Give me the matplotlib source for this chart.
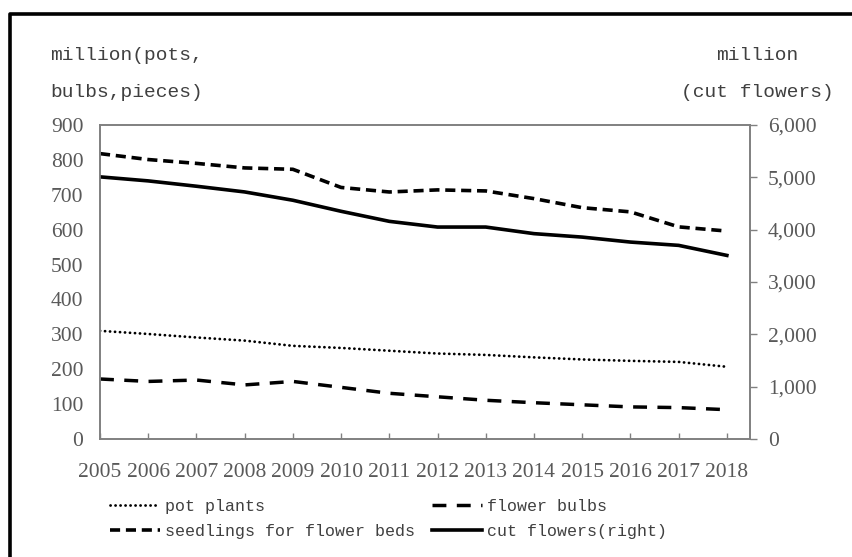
import matplotlib
matplotlib.use("Agg")
import matplotlib.pyplot as plt
from matplotlib.lines import Line2D

# --- dados ---
anos = [2005, 2006, 2007, 2008, 2009, 2010, 2011, 2012, 2013, 2014, 2015, 2016, 2017, 2018]
pot_plants = [310, 301, 291, 282, 267, 261, 253, 245, 241, 234, 228, 224, 221, 207]
flower_bulbs = [172, 165, 169, 155, 165, 148, 131, 121, 111, 104, 98, 92, 90, 84]
seedlings = [818, 801, 790, 777, 773, 721, 708, 714, 711, 689, 663, 651, 608, 596]
cut_flowers = [5009, 4932, 4830, 4721, 4562, 4351, 4159, 4050, 4050, 3924, 3858, 3763, 3700, 3508]

esq_ticks = [0, 100, 200, 300, 400, 500, 600, 700, 800, 900]
dir_ticks = [0, 1000, 2000, 3000, 4000, 5000, 6000]

W, H = 853, 557
cinza = "#808080"
texto = "#595959"
serif = "Liberation Serif"
mono = "Liberation Mono"

fig = plt.figure(figsize=(W / 100, H / 100), dpi=100)
ax = fig.add_axes([100 / W, 1 - 439 / H, 650 / W, 314 / H])
ax2 = ax.twinx()

x = list(range(len(anos)))

l_pot, = ax.plot(x, pot_plants, color="black", lw=2.0, dashes=(0.05, 1.75),
                 dash_capstyle="round", label="pot plants")
l_seed, = ax.plot(x, seedlings, color="black", lw=2.6, dashes=(2.8, 1.6),
                  label="seedlings for flower beds")
l_bulb, = ax.plot(x, flower_bulbs, color="black", lw=2.5, dashes=(4.0, 3.0),
                  label="flower bulbs")
l_cut, = ax2.plot(x, cut_flowers, color="black", lw=2.6, label="cut flowers(right)")

ax.set_xlim(0, 13.48)
ax.set_ylim(0, 900)
ax2.set_ylim(0, 6000)

ax.set_xticks(x)
ax.set_xticklabels([str(a) for a in anos], fontfamily=serif, fontsize=15.5, color=texto)
ax.tick_params(axis="x", direction="in", length=4.5, width=1, color=cinza, pad=17)

ax.set_yticks(esq_ticks)
ax.set_yticklabels([str(v) for v in esq_ticks], fontfamily=serif, fontsize=15.5, color=texto)
ax.tick_params(axis="y", length=0, pad=12)

ax2.set_yticks(dir_ticks)
ax2.set_yticklabels([f"{v:,}" for v in dir_ticks], fontfamily=serif, fontsize=15.5, color=texto)
ax2.tick_params(axis="y", direction="out", length=5, width=1, color=cinza, pad=8)

for a in (ax, ax2):
    for s in a.spines.values():
        s.set_color(cinza)
        s.set_linewidth(1.2)

# títulos dos eixos
fig.text(50 / W, 1 - 60 / H, "million(pots,", fontfamily=mono, fontsize=14,
         color="#404040", ha="left", va="baseline")
fig.text(50 / W, 1 - 97 / H, "bulbs,pieces)", fontfamily=mono, fontsize=14,
         color="#404040", ha="left", va="baseline")
fig.text(757 / W, 1 - 60 / H, "million", fontfamily=mono, fontsize=14,
         color="#404040", ha="center", va="baseline")
fig.text(757 / W, 1 - 97 / H, "(cut flowers)", fontfamily=mono, fontsize=14,
         color="#404040", ha="center", va="baseline")

# legenda (2 colunas)
leg = fig.legend(handles=[l_pot, l_seed, l_bulb, l_cut], ncol=2, frameon=False,
                 loc="upper left", bbox_to_anchor=(110 / W, 1 - 499 / H),
                 borderpad=0, borderaxespad=0, handlelength=3.0, handletextpad=0.3,
                 columnspacing=1.0, labelspacing=0.6,
                 prop={"family": mono, "size": 12})
for t in leg.get_texts():
    t.set_color("#404040")

# moldura externa
fig.add_artist(Line2D([9.5 / W, 9.5 / W, 1.0], [0.0, 1 - 13.5 / H, 1 - 13.5 / H],
                      transform=fig.transFigure, color="black", lw=2.6))

fig.savefig("out.png", dpi=100)
